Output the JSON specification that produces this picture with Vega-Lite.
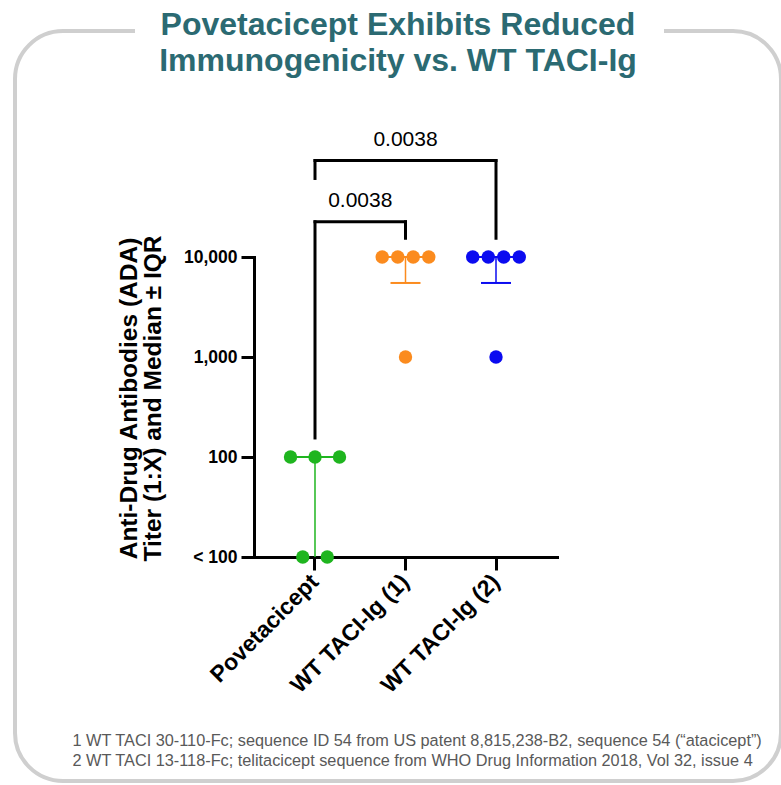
{
  "$schema": "https://vega.github.io/schema/vega-lite/v6.json",
  "width": 766,
  "height": 750,
  "autosize": {"type": "none"},
  "padding": {"left": 15, "top": 31, "right": 0, "bottom": 4},
  "background": "white",
  "view": {"stroke": "#cfcfcf", "strokeWidth": 4, "cornerRadius": 48, "strokeDash": [72, 529, 10000], "fill": "white"},
  "config": {
    "font": "Liberation Sans",
    "axis": {
      "domainColor": "black", "domainWidth": 3, "domainCap": "square",
      "tickColor": "black", "tickWidth": 3, "tickSize": 13,
      "grid": false, "labelColor": "black", "labelFont": "Liberation Sans",
      "labelFontWeight": "bold", "titleFont": "Liberation Sans"
    }
  },
  "title": {
    "text": ["Povetacicept Exhibits Reduced", "Immunogenicity vs. WT TACI-Ig"],
    "font": "Liberation Sans", "fontSize": 32, "fontWeight": "bold",
    "color": "#2b6a72", "lineHeight": 36, "anchor": "middle", "frame": "group",
    "offset": -47
  },
  "datasets": {
    "dots": [
      {"group": "Povetacicept", "titer": 100, "slot": -2},
      {"group": "Povetacicept", "titer": 100, "slot": 0},
      {"group": "Povetacicept", "titer": 100, "slot": 2},
      {"group": "Povetacicept", "titer": 10, "slot": -1},
      {"group": "Povetacicept", "titer": 10, "slot": 1},
      {"group": "WT TACI-Ig (1)", "titer": 10000, "slot": -1.9},
      {"group": "WT TACI-Ig (1)", "titer": 10000, "slot": -0.63},
      {"group": "WT TACI-Ig (1)", "titer": 10000, "slot": 0.63},
      {"group": "WT TACI-Ig (1)", "titer": 10000, "slot": 1.9},
      {"group": "WT TACI-Ig (1)", "titer": 1000, "slot": 0},
      {"group": "WT TACI-Ig (2)", "titer": 10000, "slot": -1.9},
      {"group": "WT TACI-Ig (2)", "titer": 10000, "slot": -0.63},
      {"group": "WT TACI-Ig (2)", "titer": 10000, "slot": 0.63},
      {"group": "WT TACI-Ig (2)", "titer": 10000, "slot": 1.9},
      {"group": "WT TACI-Ig (2)", "titer": 1000, "slot": 0}
    ],
    "summary": [
      {"group": "Povetacicept", "median": 100, "q1": 10, "q3": 100},
      {"group": "WT TACI-Ig (1)", "median": 10000, "q1": 5500, "q3": 10000},
      {"group": "WT TACI-Ig (2)", "median": 10000, "q1": 5500, "q3": 10000}
    ],
    "brackets": [
      {"from": "Povetacicept", "to": "WT TACI-Ig (1)", "mid": "WT TACI-Ig (1)", "top": 22500, "foot1": 155, "foot2": 15400, "p": "0.0038"},
      {"from": "Povetacicept", "to": "WT TACI-Ig (2)", "mid": "WT TACI-Ig (1)", "top": 92000, "foot1": 61000, "foot2": 15400, "p": "0.0038"}
    ]
  },
  "layer": [
    {
      "data": {"name": "brackets"},
      "mark": {"type": "rule", "color": "black", "strokeWidth": 3, "strokeCap": "square"},
      "encoding": {
        "x": {"field": "from", "type": "nominal", "scale": {"type": "band", "domain": ["Povetacicept", "WT TACI-Ig (1)", "WT TACI-Ig (2)"], "range": [239, 542], "paddingInner": 0, "paddingOuter": 0.174}},
        "x2": {"field": "to"},
        "y": {"field": "top", "type": "quantitative", "scale": {"type": "log", "domain": [10, 10000], "range": [526, 226], "nice": false}}
      }
    },
    {
      "data": {"name": "brackets"},
      "mark": {"type": "rule", "color": "black", "strokeWidth": 3, "strokeCap": "square"},
      "encoding": {
        "x": {"field": "from", "type": "nominal", "scale": {"type": "band", "domain": ["Povetacicept", "WT TACI-Ig (1)", "WT TACI-Ig (2)"], "range": [239, 542], "paddingInner": 0, "paddingOuter": 0.174}},
        "y": {"field": "foot1", "type": "quantitative", "scale": {"type": "log", "domain": [10, 10000], "range": [526, 226], "nice": false}},
        "y2": {"field": "top"}
      }
    },
    {
      "data": {"name": "brackets"},
      "mark": {"type": "rule", "color": "black", "strokeWidth": 3, "strokeCap": "square"},
      "encoding": {
        "x": {"field": "to", "type": "nominal", "scale": {"type": "band", "domain": ["Povetacicept", "WT TACI-Ig (1)", "WT TACI-Ig (2)"], "range": [239, 542], "paddingInner": 0, "paddingOuter": 0.174}},
        "y": {"field": "foot2", "type": "quantitative", "scale": {"type": "log", "domain": [10, 10000], "range": [526, 226], "nice": false}},
        "y2": {"field": "top"}
      }
    },
    {
      "data": {"name": "brackets"},
      "transform": [{"filter": "datum.to == datum.mid"}],
      "mark": {"type": "text", "color": "black", "fontSize": 21, "font": "Liberation Sans", "baseline": "alphabetic", "align": "center", "dy": -15},
      "encoding": {
        "x": {"field": "to", "type": "nominal", "bandPosition": 0, "scale": {"type": "band", "domain": ["Povetacicept", "WT TACI-Ig (1)", "WT TACI-Ig (2)"], "range": [239, 542], "paddingInner": 0, "paddingOuter": 0.174}},
        "y": {"field": "top", "type": "quantitative", "scale": {"type": "log", "domain": [10, 10000], "range": [526, 226], "nice": false}},
        "text": {"field": "p", "type": "nominal"}
      }
    },
    {
      "data": {"name": "brackets"},
      "transform": [{"filter": "datum.to != datum.mid"}],
      "mark": {"type": "text", "color": "black", "fontSize": 21, "font": "Liberation Sans", "baseline": "alphabetic", "align": "center", "dy": -15},
      "encoding": {
        "x": {"field": "mid", "type": "nominal", "bandPosition": 0.5, "scale": {"type": "band", "domain": ["Povetacicept", "WT TACI-Ig (1)", "WT TACI-Ig (2)"], "range": [239, 542], "paddingInner": 0, "paddingOuter": 0.174}},
        "y": {"field": "top", "type": "quantitative", "scale": {"type": "log", "domain": [10, 10000], "range": [526, 226], "nice": false}},
        "text": {"field": "p", "type": "nominal"}
      }
    },
    {
      "data": {"name": "summary"},
      "mark": {"type": "rule", "strokeWidth": 1.5},
      "encoding": {
        "x": {"field": "group", "type": "nominal", "scale": {"type": "band", "domain": ["Povetacicept", "WT TACI-Ig (1)", "WT TACI-Ig (2)"], "range": [239, 542], "paddingInner": 0, "paddingOuter": 0.174}},
        "y": {"field": "q1", "type": "quantitative", "scale": {"type": "log", "domain": [10, 10000], "range": [526, 226], "nice": false}},
        "y2": {"field": "q3"},
        "color": {"field": "group", "type": "nominal", "scale": {"domain": ["Povetacicept", "WT TACI-Ig (1)", "WT TACI-Ig (2)"], "range": ["#1fb51f", "#fb8b1e", "#0b0bf0"]}, "legend": null}
      }
    },
    {
      "data": {"name": "summary"},
      "transform": [{"filter": {"field": "q1", "gt": 10}}],
      "mark": {"type": "tick", "orient": "horizontal", "size": 30, "thickness": 2, "opacity": 1},
      "encoding": {
        "x": {"field": "group", "type": "nominal", "scale": {"type": "band", "domain": ["Povetacicept", "WT TACI-Ig (1)", "WT TACI-Ig (2)"], "range": [239, 542], "paddingInner": 0, "paddingOuter": 0.174}},
        "y": {"field": "q1", "type": "quantitative", "scale": {"type": "log", "domain": [10, 10000], "range": [526, 226], "nice": false}},
        "color": {"field": "group", "type": "nominal", "scale": {"domain": ["Povetacicept", "WT TACI-Ig (1)", "WT TACI-Ig (2)"], "range": ["#1fb51f", "#fb8b1e", "#0b0bf0"]}, "legend": null}
      }
    },
    {
      "data": {"name": "summary"},
      "mark": {"type": "tick", "orient": "horizontal", "size": 50, "thickness": 2, "opacity": 1},
      "encoding": {
        "x": {"field": "group", "type": "nominal", "scale": {"type": "band", "domain": ["Povetacicept", "WT TACI-Ig (1)", "WT TACI-Ig (2)"], "range": [239, 542], "paddingInner": 0, "paddingOuter": 0.174}},
        "y": {"field": "median", "type": "quantitative", "scale": {"type": "log", "domain": [10, 10000], "range": [526, 226], "nice": false}},
        "color": {"field": "group", "type": "nominal", "scale": {"domain": ["Povetacicept", "WT TACI-Ig (1)", "WT TACI-Ig (2)"], "range": ["#1fb51f", "#fb8b1e", "#0b0bf0"]}, "legend": null}
      }
    },
    {
      "data": {"name": "dots"},
      "mark": {"type": "circle", "size": 180, "opacity": 1},
      "encoding": {
        "x": {
          "field": "group", "type": "nominal",
          "scale": {"type": "band", "domain": ["Povetacicept", "WT TACI-Ig (1)", "WT TACI-Ig (2)"], "range": [239, 542], "paddingInner": 0, "paddingOuter": 0.174},
          "axis": {
            "offset": -224, "labelAngle": -45, "labelAlign": "right", "labelBaseline": "middle",
            "labelFontSize": 23, "labelPadding": 8, "labelOverlap": false,
            "title": ["1 WT TACI 30-110-Fc; sequence ID 54 from US patent 8,815,238-B2, sequence 54 (“atacicept”)", "2 WT TACI 13-118-Fc; telitacicept sequence from WHO Drug Information 2018, Vol 32, issue 4"],
            "titleFontSize": 16.3, "titleFontWeight": "normal", "titleColor": "#595959",
            "titleX": 57, "titleY": 188, "titleAlign": "left", "titleBaseline": "alphabetic",
            "titleLineHeight": 20, "titleAnchor": "start"
          }
        },
        "xOffset": {"field": "slot", "type": "quantitative", "scale": {"domain": [-2, 2], "range": [20.75, 69.75]}},
        "y": {
          "field": "titer", "type": "quantitative",
          "scale": {"type": "log", "domain": [10, 10000], "range": [526, 226], "nice": false},
          "axis": {
            "values": [10, 100, 1000, 10000],
            "labelExpr": "datum.value == 10 ? '<  100' : format(datum.value, ',')",
            "offset": -239, "labelFontSize": 17.5, "labelPadding": 4,
            "title": ["Anti-Drug Antibodies (ADA)", "Titer (1:X) and Median ± IQR"],
            "titleFontSize": 24.5, "titleFontWeight": "bold", "titleColor": "black",
            "titleLineHeight": 24, "titlePadding": 18, "titleY": 367
          }
        },
        "color": {"field": "group", "type": "nominal", "scale": {"domain": ["Povetacicept", "WT TACI-Ig (1)", "WT TACI-Ig (2)"], "range": ["#1fb51f", "#fb8b1e", "#0b0bf0"]}, "legend": null}
      }
    }
  ]
}
